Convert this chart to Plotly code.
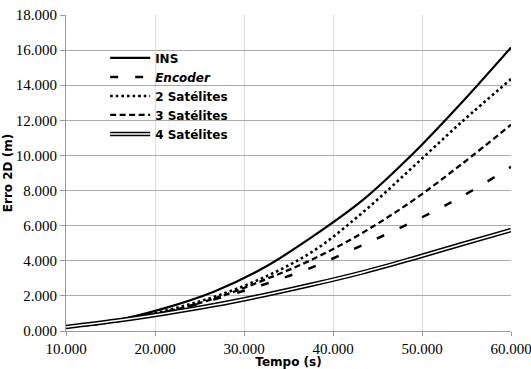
import plotly.graph_objects as go

# ---- data ----
tempo = [10000, 15556, 21111, 26667, 32222, 37778, 43333, 48889, 54444, 60000]
ins = [230, 600, 1300, 2250, 3600, 5400, 7450, 10050, 13000, 16150]
encoder = [220, 540, 1080, 1800, 2650, 3650, 4900, 6200, 7650, 9350]
sat2 = [220, 560, 1150, 1950, 3050, 4550, 6750, 9300, 11900, 14350]
sat3 = [220, 540, 1080, 1850, 2900, 4100, 5600, 7400, 9500, 11750]
sat4 = [230, 580, 1000, 1480, 2040, 2660, 3340, 4120, 4940, 5750]

x_ticks = [10000, 20000, 30000, 40000, 50000, 60000]
x_labels = ["10.000", "20.000", "30.000", "40.000", "50.000", "60.000"]
y_ticks = [0, 2000, 4000, 6000, 8000, 10000, 12000, 14000, 16000, 18000]
y_labels = ["0.000", "2.000", "4.000", "6.000", "8.000", "10.000",
            "12.000", "14.000", "16.000", "18.000"]

names = ["INS", "<i>Encoder</i>", "2 Satélites", "3 Satélites", "4 Satélites"]

PLOT_H = 369 - 15 - 38
LEG_X = 0.088
LEG_Y = 0.91

fig = go.Figure()
fig.add_trace(go.Scatter(x=tempo, y=ins, name=names[0], mode="lines",
                         line=dict(color="black", width=2.2, shape="spline")))
fig.add_trace(go.Scatter(x=tempo, y=encoder, name=names[1], mode="lines",
                         line=dict(color="black", width=2.5, shape="spline", dash="8px,17px")))
fig.add_trace(go.Scatter(x=tempo, y=sat2, name=names[2], mode="lines",
                         line=dict(color="black", width=2.6, shape="spline", dash="2.6px,3px")))
fig.add_trace(go.Scatter(x=tempo, y=sat3, name=names[3], mode="lines",
                         line=dict(color="black", width=2.3, shape="spline", dash="6px,3.5px")))
fig.add_trace(go.Scatter(x=tempo, y=sat4, name=names[4], mode="lines",
                         line=dict(color="black", width=4.6, shape="spline")))
fig.add_trace(go.Scatter(x=tempo, y=sat4, name=names[4], mode="lines", legend="legend2",
                         line=dict(color="white", width=1.6, shape="spline")))

fig.add_shape(type="rect", xref="paper", yref="paper", x0=0.003, x1=0.44, y0=0.595, y1=0.996,
              fillcolor="white", line=dict(width=0), layer="between")

serif = "Liberation Serif, Times New Roman, serif"
legend_font = dict(family="DejaVu Sans", size=12, color="black", weight="bold")
fig.update_layout(
    width=531, height=369,
    margin=dict(l=66, r=20, t=15, b=38),
    paper_bgcolor="white", plot_bgcolor="white",
    showlegend=True,
    legend=dict(x=LEG_X, y=LEG_Y, xanchor="left", yanchor="top", bgcolor="rgba(0,0,0,0)",
                font=legend_font, tracegroupgap=0, itemwidth=40),
    legend2=dict(x=LEG_X, y=LEG_Y - 4 * 19 / PLOT_H, xanchor="left", yanchor="top",
                 bgcolor="rgba(0,0,0,0)", itemwidth=40,
                 font=dict(family="DejaVu Sans", size=12, color="rgba(0,0,0,0)", weight="bold")),
    xaxis=dict(range=[10000, 60000], tickvals=x_ticks, ticktext=x_labels,
               showgrid=True, gridcolor="#dcdcdc", gridwidth=1,
               showline=True, linecolor="#9a9a9a", linewidth=1,
               ticks="outside", ticklen=4, tickcolor="#9a9a9a",
               tickfont=dict(family=serif, size=15, color="black"),
               ticklabeloverflow="allow",
               title=dict(text="Tempo (s)", standoff=0,
                          font=dict(family="DejaVu Sans", size=12, color="black", weight="bold")),
               zeroline=False, automargin=False),
    yaxis=dict(range=[0, 18000], tickvals=y_ticks, ticktext=y_labels,
               showgrid=True, gridcolor="#ababab", gridwidth=1,
               showline=True, linecolor="#9a9a9a", linewidth=1,
               ticks="outside", ticklen=5, tickcolor="#9a9a9a",
               tickfont=dict(family=serif, size=15, color="black"),
               ticklabeloverflow="allow",
               title=dict(text="Erro 2D (m)", standoff=0,
                          font=dict(family="DejaVu Sans", size=12, color="black", weight="bold")),
               zeroline=False, automargin=False),
)

fig.write_html("out.html", config={"displayModeBar": False},
               post_script="document.body.style.margin='0';")
